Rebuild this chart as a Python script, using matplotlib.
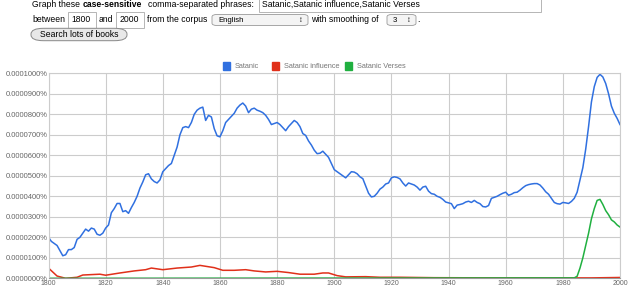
import matplotlib
matplotlib.use("Agg")
import matplotlib.pyplot as plt
from matplotlib.patches import FancyBboxPatch, Rectangle
from matplotlib.ticker import FuncFormatter

plt.rcParams['font.family'] = ['Liberation Sans', 'DejaVu Sans']

# values in units of 0.00001 %
sat_years = list(range(1800, 2001))
satanic = [2.0, 1.8, 1.7, 1.6, 1.35, 1.1, 1.15, 1.4, 1.4, 1.5,
           1.9, 2.0, 2.2, 2.4, 2.3, 2.45, 2.4, 2.15, 2.1, 2.2,
           2.45, 2.6, 3.2, 3.4, 3.65, 3.65, 3.25, 3.3, 3.17, 3.45,
           3.7, 4.0, 4.4, 4.7, 5.05, 5.1, 4.85, 4.72, 4.65, 4.8,
           5.2, 5.35, 5.5, 5.6, 6.0, 6.4, 7.0, 7.35, 7.4, 7.35,
           7.6, 8.0, 8.2, 8.3, 8.35, 7.7, 7.95, 7.87, 7.3, 6.95,
           6.9, 7.2, 7.6, 7.75, 7.9, 8.05, 8.3, 8.45, 8.55, 8.4,
           8.08, 8.25, 8.3, 8.2, 8.15, 8.08, 7.95, 7.75, 7.5, 7.55,
           7.6, 7.5, 7.35, 7.2, 7.4, 7.55, 7.7, 7.6, 7.4, 7.06,
           6.97, 6.7, 6.5, 6.25, 6.08, 6.1, 6.2, 6.05, 5.9, 5.6,
           5.3, 5.2, 5.1, 5.0, 4.9, 5.05, 5.2, 5.18, 5.1, 4.95,
           4.86, 4.5, 4.15, 3.97, 4.0, 4.15, 4.35, 4.45, 4.6, 4.65,
           4.9, 4.95, 4.92, 4.85, 4.65, 4.5, 4.65, 4.6, 4.55, 4.45,
           4.3, 4.45, 4.49, 4.25, 4.13, 4.1, 4.0, 3.95, 3.85, 3.72,
           3.68, 3.64, 3.4, 3.57, 3.6, 3.64, 3.72, 3.76, 3.7, 3.8,
           3.7, 3.64, 3.5, 3.48, 3.55, 3.9, 3.95, 4.0, 4.08, 4.15,
           4.2, 4.05, 4.1, 4.18, 4.2, 4.3, 4.42, 4.52, 4.57, 4.6,
           4.62, 4.62, 4.55, 4.4, 4.22, 4.1, 3.9, 3.7, 3.64, 3.62,
           3.7, 3.68, 3.65, 3.75, 3.9, 4.2, 4.8, 5.4, 6.3, 7.4,
           8.6, 9.35, 9.8, 9.95, 9.82, 9.5, 9.0, 8.4, 8.05, 7.8,
           7.5]

infl_years = [1800, 1803, 1806, 1810, 1812, 1818, 1820, 1825, 1830, 1834,
              1836, 1840, 1845, 1850, 1853, 1858, 1861, 1865, 1869, 1872,
              1876, 1880, 1884, 1888, 1893, 1896, 1898, 1901, 1904, 1911,
              1916, 1923, 1935, 1960, 1990, 2000]
influence = [0.5, 0.11, 0.0, 0.05, 0.16, 0.2, 0.15, 0.26, 0.36, 0.42,
             0.5, 0.42, 0.5, 0.55, 0.63, 0.52, 0.39, 0.39, 0.42, 0.36,
             0.31, 0.34, 0.28, 0.2, 0.2, 0.26, 0.26, 0.13, 0.07, 0.08,
             0.05, 0.05, 0.03, 0.02, 0.02, 0.04]

verses_years = [1800, 1984, 1985, 1986, 1987, 1988, 1989, 1990, 1991, 1992,
                1993, 1994, 1995, 1996, 1997, 1998, 1999, 2000]
verses = [0.0, 0.02, 0.1, 0.5, 1.0, 1.6, 2.2, 2.9, 3.4, 3.8,
          3.85, 3.6, 3.3, 3.1, 2.85, 2.75, 2.6, 2.5]

labels = ['Satanic', 'Satanic influence', 'Satanic Verses']
colors = ['#3070e0', '#e0301a', '#20b040']

W, H = 630, 288
fig = plt.figure(figsize=(W / 100, H / 100), dpi=100)


def fx(px):
    return px / W


def fy(py):
    return 1 - py / H


ax = fig.add_axes([fx(48.5), fy(278.3), fx(620) - fx(48.5), fy(73.3) - fy(278.3)])
ax.plot(sat_years, satanic, color=colors[0], lw=1.1)
ax.plot(infl_years, influence, color=colors[1], lw=1.1)
ax.plot(verses_years, verses, color=colors[2], lw=1.1)
ax.set_xlim(1800, 2000)
ax.set_ylim(0, 10)
ax.set_xticks(range(1800, 2001, 20))
ax.set_yticks(range(0, 11))
ax.yaxis.set_major_formatter(FuncFormatter(lambda v, p: f"{v * 1e-5:.7f}%"))
ax.grid(True, color='#cccccc', lw=0.8)
ax.set_axisbelow(True)
for s in ax.spines.values():
    s.set_color('#cccccc')
    s.set_linewidth(0.8)
ax.spines['bottom'].set_color('#999999')
ax.tick_params(length=0, colors='#666666', pad=1.5)
ax.tick_params(axis='x', labelsize=5.0)
ax.tick_params(axis='y', labelsize=5.5, pad=0.5)

# legend
leg_x = [223, 272, 345]
for lx, lab, c in zip(leg_x, labels, colors):
    fig.patches.append(Rectangle((fx(lx), fy(69.5)), fx(7), 7 / H, color=c,
                                 transform=fig.transFigure))
    fig.text(fx(lx + 12), fy(66), lab, fontsize=5.3, color='#777777', va='center')

# header form
fs = 6.2
fig.text(fx(32), fy(4.5), 'Graph these', fontsize=fs, va='center')
fig.text(fx(83), fy(4.5), 'case-sensitive', fontsize=fs, va='center', weight='bold')
fig.text(fx(148), fy(4.5), 'comma-separated phrases:', fontsize=fs, va='center')
fig.patches.append(Rectangle((fx(259), fy(12)), fx(282), 14 / H, fc='white',
                             ec='#aaaaaa', lw=0.6, transform=fig.transFigure))
fig.text(fx(262), fy(4.5), 'Satanic,Satanic influence,Satanic Verses', fontsize=fs, va='center')

fig.text(fx(32), fy(20), 'between', fontsize=fs, va='center')
for bx, bw, t in [(68, 28, '1800'), (116, 28, '2000')]:
    fig.patches.append(Rectangle((fx(bx), fy(28.3)), fx(bw), 16.6 / H, fc='white',
                                 ec='#aaaaaa', lw=0.6, transform=fig.transFigure))
    fig.text(fx(bx + 3.5), fy(20), t, fontsize=fs, va='center')
fig.text(fx(99), fy(20), 'and', fontsize=fs, va='center')
fig.text(fx(147), fy(20), 'from the corpus', fontsize=fs, va='center')
for bx, bw, t in [(212, 96, 'English'), (387, 29, '3')]:
    fig.patches.append(FancyBboxPatch((fx(bx), fy(25.5)), fx(bw), 11 / H,
                                      boxstyle='round,pad=0,rounding_size=0.008',
                                      fc='#f4f4f4', ec='#999999', lw=0.6,
                                      transform=fig.transFigure))
    fig.text(fx(bx + 6), fy(20), t, fontsize=5.6, va='center')
    fig.text(fx(bx + bw - 7), fy(20), '\u2195', fontsize=5.5, va='center', ha='center')
fig.text(fx(311), fy(20), 'with smoothing of', fontsize=fs, va='center')
fig.text(fx(417), fy(20), '.', fontsize=fs, va='center')

fig.patches.append(FancyBboxPatch((fx(31), fy(40.7)), fx(96), 12.4 / H,
                                  boxstyle='round,pad=0,rounding_size=0.02',
                                  fc='#e8e8e8', ec='#888888', lw=0.7,
                                  transform=fig.transFigure))
fig.text(fx(79), fy(34.3), 'Search lots of books', fontsize=fs, va='center', ha='center')

fig.savefig('out.png', dpi=100)
